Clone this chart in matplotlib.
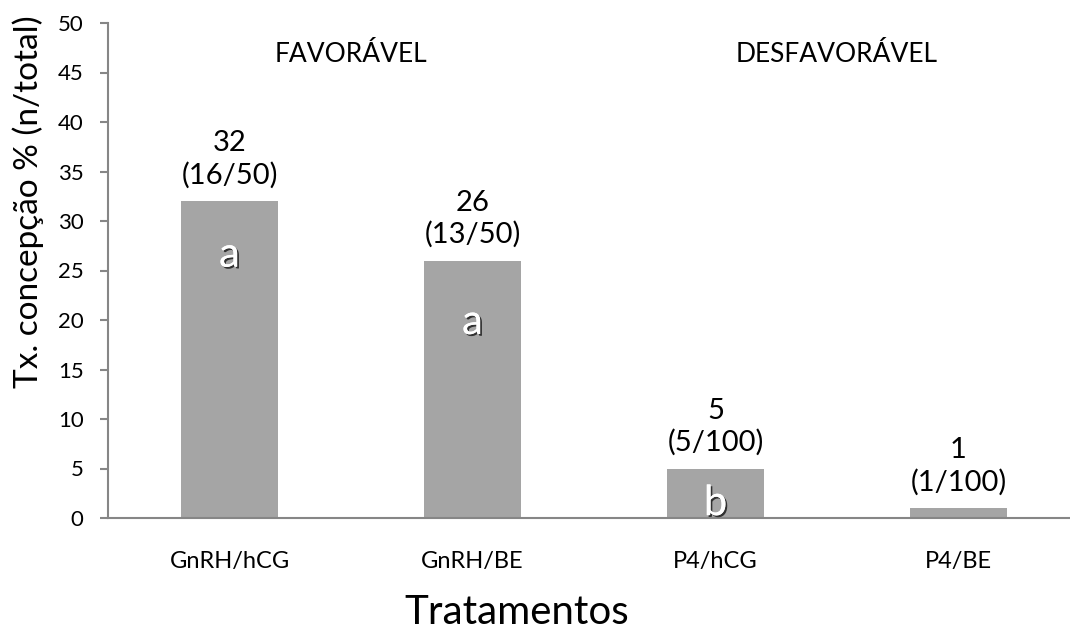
import matplotlib.pyplot as plt
import matplotlib.patheffects as pe

plt.rcParams['font.family'] = ['Lato', 'DejaVu Sans']

tratamentos = ['GnRH/hCG', 'GnRH/BE', 'P4/hCG', 'P4/BE']
taxa = [32, 26, 5, 1]
prenhes = [16, 13, 5, 1]
total = [50, 50, 100, 100]
letras = ['a', 'a', 'b', '']
grupos = ['FAVORÁVEL', 'DESFAVORÁVEL']

bar_color = '#a5a5a5'
axis_color = '#868686'

fig = plt.figure(figsize=(10.70, 6.39), dpi=100)
ax = fig.add_axes([108 / 1070, 121 / 639, 972 / 1070, 495 / 639])

x = list(range(len(tratamentos)))
ax.bar(x, taxa, width=0.4, color=bar_color, zorder=2)

ax.set_xlim(-0.5, len(tratamentos) - 0.5)
ax.set_ylim(0, 50)
ax.set_yticks(range(0, 51, 5))
ax.set_xticks(x)
ax.set_xticklabels(tratamentos, fontsize=17)

for side in ['top', 'right']:
    ax.spines[side].set_visible(False)
for side in ['left', 'bottom']:
    ax.spines[side].set_color(axis_color)
    ax.spines[side].set_linewidth(1.5)
ax.tick_params(axis='y', colors=axis_color, length=5.5, width=1.5,
               labelsize=16, labelcolor='black', pad=12)
ax.tick_params(axis='x', length=0, pad=24, labelcolor='black')

# valor e fração acima de cada barra
for xi, v, n, t in zip(x, taxa, prenhes, total):
    ax.annotate(f'{v}\n({n}/{t})', (xi, v), xytext=(0, 9),
                textcoords='offset points', ha='center', va='bottom',
                fontsize=21, linespacing=1.25)

# letras de significância dentro das barras
letra_y = [26.6, 19.8, 1.5, 0]
sombra = [pe.withSimplePatchShadow(offset=(1.3, -1.3), shadow_rgbFace='black',
                                   alpha=0.7), pe.Normal()]
for xi, letra, ly in zip(x, letras, letra_y):
    if letra:
        ax.text(xi, ly, letra, ha='center', va='center', color='white',
                fontsize=30, path_effects=sombra)

for gx, g in zip([0.5, 2.5], grupos):
    ax.text(gx, 46.8, g, ha='center', va='center', fontsize=19)

ax.set_ylabel('Tx. concepção % (n/total)', fontsize=24)
ax.yaxis.set_label_coords(-0.066, 0.64)
fig.text(517 / 1070, 1 - 612 / 639, 'Tratamentos', ha='center', va='center',
         fontsize=29)

fig.savefig('out.png', dpi=100)
